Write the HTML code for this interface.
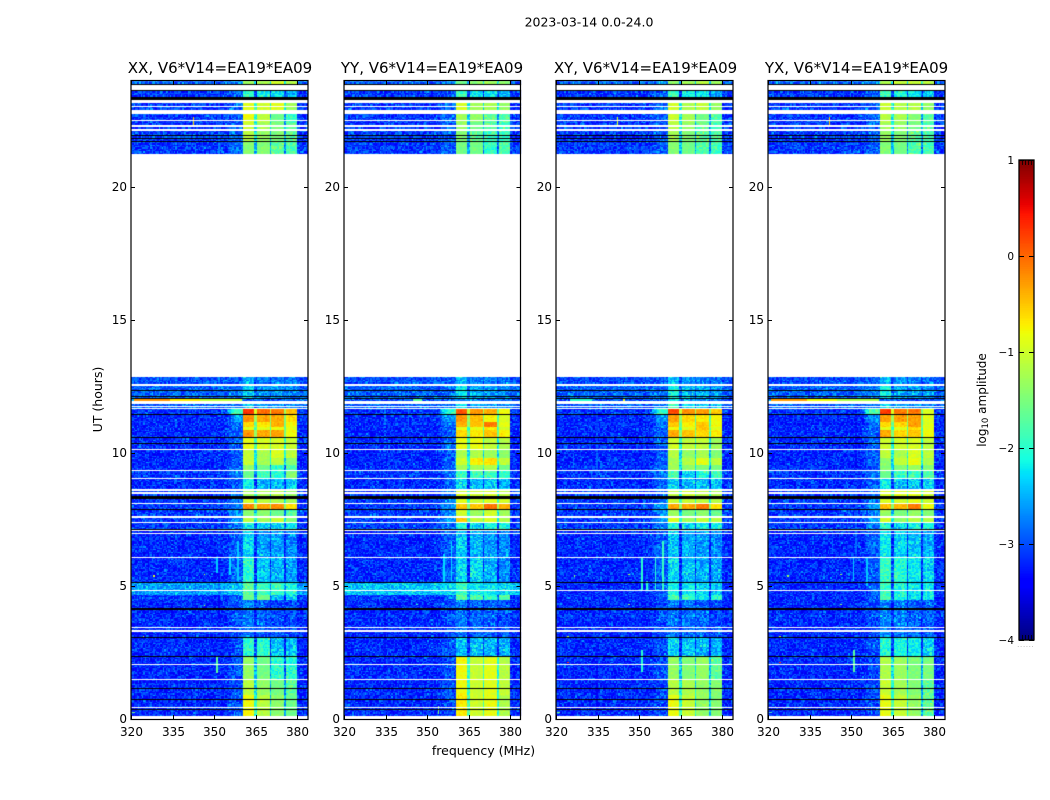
<!DOCTYPE html>
<html>
<head>
<meta charset="utf-8">
<title>2023-03-14 0.0-24.0</title>
<style>
html,body{margin:0;padding:0;background:#fff;width:1050px;height:800px;overflow:hidden}
#stage{position:relative;width:1050px;height:800px}
canvas,svg{position:absolute;left:0;top:0}
text{font-family:"DejaVu Sans","Liberation Sans",sans-serif;fill:#000}
</style>
</head>
<body>
<div id="stage">
<canvas id="heat" width="1050" height="800"></canvas>
<svg id="axes" width="1050" height="800" viewBox="0 0 1050 800">
  <text x="589" y="26.5" font-size="12.5" text-anchor="middle">2023-03-14 0.0-24.0</text>
  <text x="220" y="73" font-size="15" text-anchor="middle">XX, V6*V14=EA19*EA09</text>
  <text x="432" y="73" font-size="15" text-anchor="middle">YY, V6*V14=EA19*EA09</text>
  <text x="645.5" y="73" font-size="15" text-anchor="middle">XY, V6*V14=EA19*EA09</text>
  <text x="856.5" y="73" font-size="15" text-anchor="middle">YX, V6*V14=EA19*EA09</text>
  <text x="483.5" y="755" font-size="12.5" text-anchor="middle">frequency (MHz)</text>
  <text transform="translate(102,399.5) rotate(-90)" font-size="12.5" text-anchor="middle">UT (hours)</text>
  <text transform="translate(986,400) rotate(-90)" font-size="12" text-anchor="middle">log<tspan font-size="8.5" dy="2">10</tspan><tspan dy="-2"> amplitude</tspan></text>
  <text x="1026" y="647" font-size="6" style="fill:#888" text-anchor="middle" letter-spacing="1">......</text>
</svg>
</div>
<script>
// ---- Data ----
const panelNames = ['XX', 'YY', 'XY', 'YX'];
const freqTicks = [320, 335, 350, 365, 380];
const utTicks = [0, 5, 10, 15, 20];
const cbarTicks = [1, 0, -1, -2, -3, -4];

// Spectral windows (MHz)
const windowStartMHz = [360.6, 365.7, 370.7, 375.8];
const windowEndMHz = [364.7, 369.8, 374.9, 379.8];

// Time bands (UT hours)
const rowTopUT = [24.0,23.66,23.17,22.91,22.46,22.12,21.71,12.865,12.60,12.04,11.96,11.66,11.47,11.17,10.98,10.89,10.61,10.16,9.82,9.555,9.37,9.05,8.65,8.28,8.09,7.90,7.62,7.39,7.15,6.075,5.135,4.68,4.495,3.065,2.35,1.47,0.90];
const rowBottomUT = [23.66,23.17,22.91,22.46,22.12,21.71,21.27,12.60,12.04,11.96,11.66,11.47,11.17,10.98,10.89,10.61,10.16,9.82,9.555,9.37,9.05,8.65,8.28,8.09,7.90,7.62,7.39,7.15,6.075,5.135,4.68,4.495,3.065,2.35,1.47,0.90,0.113];

// log10 amplitude per band: [background, shoulder near 360 MHz, window 1, window 2, window 3, window 4]
const ampXX = [
[-2.9,-2.7,-1.3,-1.2,-0.95,-1.2],[-3.1,-2.9,-2.0,-2.1,-2.2,-2.5],[-3.1,-2.9,-0.9,-1.0,-0.9,-1.3],[-3.1,-2.9,-0.85,-1.1,-1.6,-1.9],
[-3.1,-2.9,-1.0,-1.25,-1.5,-1.7],[-3.1,-2.9,-1.15,-1.35,-1.5,-1.65],[-3.1,-2.9,-1.45,-1.45,-1.65,-1.75],[-3.0,-2.9,-2.5,-2.7,-2.8,-2.8],
[-2.9,-2.8,-2.3,-2.6,-2.6,-2.7],[-2.8,-2.7,-2.9,-3,-3,-3],[-2.9,-2.8,-2.3,-2.6,-2.6,-2.7],[-3.1,-1.8,0.3,-0.05,-0.1,-0.45],
[-3.2,-2.6,-0.2,-0.35,-0.35,-0.65],[-3.2,-2.8,-0.6,-0.7,-0.4,-0.8],[-3.2,-2.9,-0.9,-0.9,-0.8,-0.9],[-3.2,-2.9,-0.25,-0.35,-0.3,-0.8],
[-3.2,-2.9,-0.85,-0.95,-0.95,-1.05],[-3.2,-2.9,-1.05,-1.25,-0.95,-1.1],[-3.2,-2.9,-1.05,-1.25,-1.15,-1.45],[-3.2,-2.9,-1.4,-1.6,-2.0,-1.8],
[-3.1,-2.8,-1.6,-1.9,-2.0,-1.45],[-3.2,-2.9,-2.2,-2.5,-2.5,-2.3],[-3.1,-2.8,-1.25,-1.25,-1.15,-1.35],[-3.1,-2.8,-1.0,-1.1,-1.2,-1.3],
[-3.1,-2.7,-0.2,-0.3,-0.2,-0.65],[-3.1,-2.7,-1.4,-1.4,-1.6,-1.7],[-3.1,-2.7,-1.15,-1.25,-1.05,-1.45],[-3.1,-2.8,-2.2,-2.4,-2.3,-2.2],
[-3.2,-2.9,-2.3,-2.6,-2.6,-2.7],[-3.2,-2.9,-2.0,-2.4,-2.5,-2.6],[-2.6,-2.4,-1.7,-1.9,-1.9,-2.1],[-3.1,-2.9,-1.6,-1.6,-2.4,-2.3],
[-3.2,-3.0,-2.8,-2.9,-3.0,-3.0],[-3.2,-3.0,-2.0,-2.0,-2.4,-2.4],[-3.2,-3.0,-1.35,-1.55,-2.0,-2.0],[-3.2,-3.0,-1.15,-1.35,-1.55,-1.7],[-3.2,-3.0,-0.8,-1.15,-1.4,-1.6]
];
const ampYY = [
[-2.9,-2.7,-1.6,-1.4,-1.3,-1.4],[-3.1,-2.9,-1.9,-2.2,-2.2,-2.5],[-3.1,-2.9,-0.95,-1.25,-1.25,-1.35],[-3.1,-2.9,-1.25,-1.35,-1.65,-1.75],
[-3.1,-2.9,-1.35,-1.55,-1.75,-1.85],[-3.1,-2.9,-1.45,-1.65,-1.85,-1.85],[-3.1,-2.9,-1.55,-1.55,-1.95,-1.75],[-3.0,-2.9,-2.4,-2.7,-2.7,-2.8],
[-2.9,-2.8,-2.2,-2.5,-2.6,-2.7],[-3.0,-2.9,-2.6,-2.8,-2.8,-2.9],[-2.9,-2.8,-2.2,-2.5,-2.6,-2.7],[-3.1,-1.9,0.1,-0.25,-0.35,-0.8],
[-3.2,-2.6,-0.25,-0.45,-0.75,-0.95],[-3.2,-2.8,-0.4,-0.5,-0.1,-0.9],[-3.2,-2.9,-0.9,-0.9,-0.7,-1.0],[-3.2,-2.9,-0.6,-0.7,-0.5,-0.7],
[-3.2,-2.9,-0.85,-0.85,-1.1,-1.2],[-3.2,-2.9,-1.2,-1.2,-1.3,-1.4],[-3.2,-2.9,-1.0,-0.75,-0.65,-1.1],[-3.2,-2.9,-1.3,-1.3,-1.2,-1.6],
[-3.1,-2.8,-1.9,-1.9,-1.9,-1.9],[-3.2,-2.9,-2.3,-2.5,-2.4,-2.5],[-3.1,-2.8,-0.95,-1.0,-0.95,-1.1],[-3.1,-2.8,-0.9,-1.0,-0.9,-1.0],
[-3.1,-2.6,-0.5,-0.5,-0.05,-0.4],[-3.1,-2.7,-1.0,-1.3,-1.0,-1.3],[-3.1,-2.6,-0.5,-1.1,-0.95,-1.2],[-3.1,-2.8,-2.1,-2.3,-2.1,-2.1],
[-3.2,-2.9,-2.4,-2.5,-2.6,-2.7],[-3.2,-2.9,-2.3,-2.3,-2.5,-2.7],[-2.4,-2.3,-1.9,-2.2,-2.2,-2.3],[-3.1,-2.9,-1.7,-1.8,-2.0,-1.7],
[-3.2,-3.0,-2.8,-2.9,-2.9,-3.0],[-3.2,-3.0,-2.4,-2.4,-2.5,-2.5],[-3.2,-3.0,-0.8,-1.05,-0.9,-1.15],[-3.2,-3.0,-0.8,-1.0,-0.9,-1.1],[-3.2,-3.0,-0.7,-1.0,-0.85,-1.2]
];
const ampXY = [
[-2.9,-2.7,-1.4,-1.3,-1.15,-1.35],[-3.1,-2.9,-1.9,-2.2,-2.2,-2.5],[-3.1,-2.9,-1.0,-1.2,-1.1,-1.35],[-3.1,-2.9,-1.05,-1.25,-1.55,-1.75],
[-3.1,-2.9,-1.15,-1.35,-1.65,-1.75],[-3.1,-2.9,-1.25,-1.45,-1.65,-1.75],[-3.1,-2.9,-1.45,-1.55,-1.75,-1.85],[-3.0,-2.9,-2.4,-2.6,-2.7,-2.8],
[-2.9,-2.8,-2.1,-2.4,-2.5,-2.6],[-3.0,-2.9,-2.2,-2.6,-2.6,-2.8],[-2.9,-2.8,-1.9,-2.2,-2.3,-2.4],[-3.1,-1.9,0.15,-0.2,-0.3,-0.5],
[-3.2,-2.6,-0.3,-0.6,-0.7,-0.8],[-3.2,-2.8,-0.5,-0.7,-0.5,-0.8],[-3.2,-2.9,-0.8,-0.9,-0.5,-0.9],[-3.2,-2.9,-0.35,-0.5,-0.6,-0.7],
[-3.2,-2.9,-1.0,-1.1,-1.1,-1.3],[-3.2,-2.9,-1.15,-1.35,-1.25,-1.45],[-3.2,-2.9,-1.25,-1.15,-0.9,-1.15],[-3.2,-2.9,-1.3,-1.4,-1.5,-1.5],
[-3.1,-2.8,-1.8,-2.3,-2.0,-1.9],[-3.2,-2.9,-2.3,-2.5,-2.4,-2.4],[-3.1,-2.8,-1.1,-1.0,-1.1,-1.2],[-3.1,-2.8,-1.0,-1.1,-1.1,-1.2],
[-3.1,-2.6,-0.35,-0.35,-0.1,-0.65],[-3.1,-2.7,-1.3,-1.5,-1.4,-1.6],[-3.1,-2.6,-0.9,-1.3,-1.05,-1.15],[-3.1,-2.8,-2.1,-2.3,-2.2,-2.1],
[-3.2,-2.9,-2.4,-2.5,-2.6,-2.7],[-3.2,-2.9,-2.3,-2.4,-2.5,-2.6],[-3.2,-2.9,-2.1,-2.2,-2.3,-2.4],[-3.2,-2.9,-1.8,-1.9,-2.2,-2.0],
[-3.2,-3.0,-2.8,-2.8,-2.9,-3.0],[-3.2,-3.0,-2.3,-2.4,-2.5,-2.5],[-3.2,-3.0,-1.35,-1.45,-1.35,-1.65],[-3.2,-3.0,-1.15,-1.2,-1.35,-1.45],[-3.2,-3.0,-0.85,-1.05,-1.35,-1.45]
];
const ampYX = [
[-2.9,-2.7,-1.25,-1.05,-1.05,-1.15],[-3.1,-2.9,-1.9,-2.1,-2.2,-2.4],[-3.1,-2.9,-1.05,-1.15,-1.15,-1.35],[-3.1,-2.9,-1.15,-1.25,-1.45,-1.65],
[-3.1,-2.9,-1.25,-1.35,-1.55,-1.75],[-3.1,-2.9,-1.35,-1.45,-1.65,-1.75],[-3.1,-2.9,-1.45,-1.55,-1.75,-1.85],[-3.0,-2.9,-2.4,-2.6,-2.7,-2.8],
[-2.9,-2.8,-2.1,-2.5,-2.6,-2.6],[-2.8,-2.7,-2.9,-3,-3,-3],[-2.9,-2.8,-2.3,-2.5,-2.6,-2.7],[-3.1,-1.8,0.25,-0.1,-0.1,-0.9],
[-3.2,-2.6,-0.3,-0.3,-0.3,-0.9],[-3.2,-2.8,-0.6,-0.6,-0.3,-0.9],[-3.2,-2.9,-0.9,-0.9,-0.6,-0.9],[-3.2,-2.9,-0.35,-0.6,-0.5,-0.8],
[-3.2,-2.9,-1.0,-1.0,-0.95,-1.1],[-3.2,-2.9,-1.1,-1.2,-0.95,-1.1],[-3.2,-2.9,-1.4,-1.1,-0.85,-1.2],[-3.2,-2.9,-1.45,-1.45,-1.3,-1.45],
[-3.1,-2.8,-1.6,-1.9,-1.9,-1.7],[-3.2,-2.9,-2.2,-2.4,-2.4,-2.3],[-3.1,-2.8,-0.9,-0.9,-0.9,-1.0],[-3.1,-2.8,-0.9,-1.0,-0.9,-1.0],
[-3.1,-2.6,-0.45,-0.4,-0.1,-0.8],[-3.1,-2.7,-1.35,-1.5,-1.35,-1.45],[-3.1,-2.6,-0.95,-1.35,-1.15,-1.15],[-3.1,-2.8,-2.1,-2.3,-2.2,-2.1],
[-3.2,-2.9,-2.2,-2.3,-2.4,-2.5],[-3.2,-2.9,-1.9,-2.0,-2.2,-2.3],[-3.2,-2.9,-1.9,-2.1,-2.2,-2.2],[-3.2,-2.9,-1.8,-2.1,-2.3,-2.2],
[-3.2,-3.0,-2.7,-2.8,-2.9,-2.9],[-3.2,-3.0,-2.0,-2.1,-2.2,-2.3],[-3.2,-3.0,-1.2,-1.3,-1.5,-1.5],[-3.2,-3.0,-1.05,-1.25,-1.45,-1.65],[-3.2,-3.0,-0.85,-1.05,-1.35,-1.65]
];

// Scans with no data (rendered white) and zero-valued scans (rendered black): [UT high, UT low]
const emptyScansUT = [[23.857,23.674],[23.267,23.183],[23.06,23.02],[22.91,22.75],[22.53,22.50],[22.33,22.28],[22.18,22.12],[12.59,12.51],[11.955,11.90],[11.87,11.835],[11.775,11.75],[11.70,11.66],[10.157,10.12],[9.367,9.33],[9.066,9.017],[8.64,8.566],[8.53,8.475],[8.114,8.088],[7.636,7.573],[7.41,7.373],[7.12,7.083],[6.997,6.97],[6.094,6.064],[4.853,4.815],[3.45,3.423],[3.36,3.284],[2.069,2.039],[1.505,1.478],[0.451,0.414]];
const zeroScansUT = [[23.876,23.857],[23.674,23.643],[23.398,23.267],[21.958,21.931],[21.856,21.83],[21.743,21.715],[12.376,12.346],[12.162,12.14],[12.064,12.02],[11.473,11.443],[10.597,10.571],[10.383,10.352],[8.389,8.265],[7.9,7.881],[7.147,7.12],[5.154,5.116],[4.164,4.119],[3.085,3.047],[2.37,2.332],[1.166,1.14],[0.752,0.726],[0.376,0.35]];

// Interference features: [panel index, UT high, UT low, MHz low, MHz high, log10 amplitude]
const rfiFeatures = [
[0,12.02,11.98,321,334,-0.25],[0,12.02,11.98,334,345,-0.7],[0,12.02,11.98,345,360,-1.1],[0,2.35,1.74,350.8,351.4,-1.7],[0,4.3,4.26,346.2,346.8,-1.0],[0,5.47,5.43,346.2,346.8,-1.0],[0,5.4,5.36,328,328.5,-1.0],[0,3.14,3.1,324.2,324.8,-1.0],[0,0.27,0.22,320.5,321.5,-1.5],[0,6.1,5.5,350.8,351.3,-2.4],[0,6.1,5.4,355.5,356,-2.3],[0,6.7,5.2,358.3,358.8,-2.4],[0,22.66,22.3,342.2,342.7,-0.5],
[1,6.2,4.85,355.8,356.3,-2.3],[1,6.7,5.2,358.6,359.1,-2.3],[1,4.32,4.27,346,346.7,-1.9],[1,0.5,0.2,353.8,354.3,-1.5],[1,12.02,11.98,345,348,-1.7],
[2,6.1,4.85,350.7,351.2,-2.0],[2,5.2,4.85,352.5,353,-2.0],[2,6.1,4.85,355.6,356.1,-2.0],[2,6.7,4.85,358.4,358.9,-1.9],[2,2.6,1.75,350.8,351.3,-2.0],[2,4.32,4.27,346,346.7,-1.4],[2,5.47,5.43,346,346.6,-1.2],[2,5.4,5.36,326.5,327,-1.4],[2,3.14,3.1,324,324.6,-1.1],[2,2.14,2.1,324,324.6,0.2],[2,0.27,0.22,320.5,321.5,-1.5],[2,22.66,22.3,342,342.5,-0.9],[2,12.02,11.98,344,345,-0.9],[2,12.02,11.98,325,333,-2.0],
[3,12.02,11.98,321,334,-0.3],[3,12.02,11.98,334,345,-0.8],[3,12.02,11.98,345,360,-1.2],[3,6.1,5.2,350.5,351,-2.4],[3,6.1,5.0,355.5,356,-2.4],[3,2.6,1.75,350.8,351.3,-1.7],[3,4.32,4.27,346,346.7,-1.4],[3,5.47,5.43,346,346.6,-1.3],[3,5.4,5.36,327,327.5,-1.3],[3,3.14,3.1,324,324.6,-1.1],[3,2.14,2.1,324,324.6,0.2],[3,1.52,1.48,324,324.6,-1.1],[3,0.27,0.22,320.5,321.5,-1.8],[3,22.66,22.3,342,342.5,-0.5]
];

// Fixed small-scale grain (log10 offsets), repeated across cells
const grain = [-0.22,0.11,-0.05,0.27,-0.31,0.02,0.16,-0.18,0.34,-0.09,-0.26,0.07,0.21,-0.14,0.41,-0.28,0.04,-0.11,0.18,-0.35,0.09,0.29,-0.2,-0.03,0.13,-0.24,0.38,-0.07,-0.3,0.15,0.01,-0.17,0.24,-0.12,0.06,-0.33,0.31,-0.02,-0.21,0.19,0.52,-0.27,-0.08,0.12,-0.16,0.26,-0.34,0.03,0.22,-0.1,-0.25,0.17,0.36,-0.06,-0.29,0.08,-0.13,0.23,-0.19,0.44,-0.04,-0.32,0.14,0.28,-0.23,0.05,-0.15,0.33,-0.01,-0.36,0.2,0.1,-0.26,0.62,-0.11,-0.2,0.16,-0.07,0.25,-0.3,0.0,0.12,-0.17,0.39,-0.24,-0.05,0.18,-0.28,0.07,0.3,-0.14,-0.09,0.21,-0.33,0.11,0.47,-0.21];

// ---- Axis functions ----
const panelLeft = [131, 344, 556, 768];
const panelRight = [308, 520.5, 733, 945];
const PX_PER_MHZ = 2.773;
const PX_PER_HOUR = 26.583;
const PLOT_BOTTOM = 719;
const PLOT_TOP = 81;
const CBAR_LEFT = 1019, CBAR_RIGHT = 1034, CBAR_TOP = 160, CBAR_BOTTOM = 640;
function xScale(p, mhz) { return panelLeft[p] + (mhz - 320) * PX_PER_MHZ; }
function yScale(ut) { return PLOT_BOTTOM - ut * PX_PER_HOUR; }
function cbarY(v) { return CBAR_BOTTOM - (v + 4) / 5 * (CBAR_BOTTOM - CBAR_TOP); }

function piece(n, stops) {
  for (let i = 1; i < stops.length; i++) {
    if (n <= stops[i][0]) {
      const a = stops[i - 1], b = stops[i];
      return a[1] + (b[1] - a[1]) * (n - a[0]) / (b[0] - a[0]);
    }
  }
  return stops[stops.length - 1][1];
}
const jetR = [[0,0],[0.35,0],[0.66,1],[0.89,1],[1,0.5]];
const jetG = [[0,0],[0.125,0],[0.375,1],[0.64,1],[0.91,0],[1,0]];
const jetB = [[0,0.5],[0.11,1],[0.34,1],[0.65,0],[1,0]];
const lut = [];
for (let i = 0; i <= 255; i++) {
  const n = i / 255;
  lut.push('rgb(' + Math.round(piece(n, jetR) * 255) + ',' + Math.round(piece(n, jetG) * 255) + ',' + Math.round(piece(n, jetB) * 255) + ')');
}
function colorOf(v) {
  const n = Math.max(0, Math.min(1, (v + 4) / 5));
  return lut[Math.round(n * 255)];
}

// ---- Heatmap ----
const ctx = document.getElementById('heat').getContext('2d');
const panelAmps = [ampXX, ampYY, ampXY, ampYX];
const CH_MHZ = 0.5, DT_H = 0.05;

function baseAmp(row, f) {
  for (let w = 0; w < 4; w++) {
    if (f >= windowStartMHz[w] && f < windowEndMHz[w]) return row[2 + w];
  }
  if (f >= windowStartMHz[0] && f < windowEndMHz[3]) {
    for (let w = 0; w < 3; w++) {
      if (f >= windowEndMHz[w] && f < windowStartMHz[w + 1]) {
        return Math.max(row[0], (row[2 + w] + row[3 + w]) / 2 - 1.0);
      }
    }
  }
  if (f < windowStartMHz[0] && f >= 357) return row[1];
  if (f < 357 && f >= 354) return row[0] + (row[1] - row[0]) * (f - 354) / 3;
  return row[0];
}

for (let p = 0; p < 4; p++) {
  const amps = panelAmps[p];
  let r = 0;
  for (let b = 0; b < rowTopUT.length; b++) {
    const row = amps[b];
    for (let ut = rowTopUT[b]; ut > rowBottomUT[b] + 1e-6; ut -= DT_H, r++) {
      const lo = Math.max(ut - DT_H, rowBottomUT[b]);
      const y0 = Math.round(yScale(ut));
      const y1 = Math.round(yScale(lo));
      if (y1 <= y0) continue;
      for (let c = 0; c < 128; c++) {
        const f = 320 + c * CH_MHZ;
        const x0 = Math.round(xScale(p, f));
        const x1 = Math.min(Math.round(xScale(p, f + CH_MHZ)), Math.round(panelRight[p]));
        if (x1 <= x0) continue;
        const base = baseAmp(row, f + CH_MHZ / 2);
        const g = grain[(c * 13 + r * 29 + ((c * r) % 17) * 5 + p * 11) % grain.length];
        const v = base + g * (base < -2.2 ? 1 : (base < -1.6 ? 0.8 : 0.3));
        ctx.fillStyle = colorOf(v);
        ctx.fillRect(x0, y0, x1 - x0, y1 - y0);
      }
    }
  }
  for (const feat of rfiFeatures) {
    if (feat[0] !== p) continue;
    const x0 = Math.round(xScale(p, feat[3]));
    const w = Math.max(1, Math.round(xScale(p, feat[4])) - x0);
    const y0 = Math.round(yScale(feat[1]));
    const h = Math.max(1, Math.round(yScale(feat[2])) - y0);
    ctx.fillStyle = colorOf(feat[5]);
    ctx.fillRect(x0, y0, w, h);
  }
  const pw = Math.round(panelRight[p]) - panelLeft[p];
  ctx.fillStyle = '#fff';
  for (const s of emptyScansUT) {
    const y0 = Math.round(yScale(s[0]));
    ctx.fillRect(panelLeft[p], y0, pw, Math.max(1, Math.round(yScale(s[1])) - y0));
  }
  ctx.fillStyle = '#000';
  for (const s of zeroScansUT) {
    const y0 = Math.round(yScale(s[0]));
    ctx.fillRect(panelLeft[p], y0, pw, Math.max(1, Math.round(yScale(s[1])) - y0));
  }
}

// Colour bar
for (let i = 0; i < 256; i++) {
  const v0 = -4 + 5 * i / 256;
  const v1 = -4 + 5 * (i + 1) / 256;
  const yb = Math.round(cbarY(v0));
  const yt = Math.round(cbarY(v1));
  ctx.fillStyle = colorOf((v0 + v1) / 2);
  ctx.fillRect(CBAR_LEFT, yt, CBAR_RIGHT - CBAR_LEFT, Math.max(1, yb - yt));
}

// ---- Axes ----
const svg = document.getElementById('axes');
const NS = 'http://www.w3.org/2000/svg';
function addLine(x1, y1, x2, y2, w) {
  const l = document.createElementNS(NS, 'line');
  l.setAttribute('x1', x1);
  l.setAttribute('y1', y1);
  l.setAttribute('x2', x2);
  l.setAttribute('y2', y2);
  l.setAttribute('stroke', '#000');
  l.setAttribute('stroke-width', w || 1);
  svg.appendChild(l);
  return l;
}
function addLabel(x, y, str, anchor) {
  const t = document.createElementNS(NS, 'text');
  t.setAttribute('x', x);
  t.setAttribute('y', y);
  t.setAttribute('font-size', '12');
  t.setAttribute('text-anchor', anchor);
  t.textContent = str;
  svg.appendChild(t);
  return t;
}

for (let p = 0; p < 4; p++) {
  const frame = document.createElementNS(NS, 'rect');
  const L = panelLeft[p] + 0.0, R = panelRight[p];
  frame.setAttribute('x', L);
  frame.setAttribute('y', PLOT_TOP - 0.5);
  frame.setAttribute('width', R - L);
  frame.setAttribute('height', PLOT_BOTTOM - PLOT_TOP + 1);
  frame.setAttribute('fill', 'none');
  frame.setAttribute('stroke', '#000');
  frame.setAttribute('stroke-width', '1.2');
  
  
  svg.appendChild(frame);
  for (const f of freqTicks) {
    const x = Math.round(xScale(p, f)) + 0.5;
    const tb = addLine(x, PLOT_BOTTOM, x, PLOT_BOTTOM - 4);
    
    
    const tt = addLine(x, PLOT_TOP, x, PLOT_TOP + 4);
    
    
    const lb = addLabel(x, 736, String(f), 'middle');
    
    
  }
  for (const u of utTicks) {
    const y = Math.round(yScale(u)) + 0.5;
    const tl = addLine(L, y, L + 4, y);
    
    
    const tr = addLine(R - 4, y, R, y);
    
    
    const ly = addLabel(L - 4, y + 3.5, String(u), 'end');
    
    
  }
}

const cbFrame = document.createElementNS(NS, 'rect');
cbFrame.setAttribute('x', CBAR_LEFT);
cbFrame.setAttribute('y', CBAR_TOP);
cbFrame.setAttribute('width', CBAR_RIGHT - CBAR_LEFT);
cbFrame.setAttribute('height', CBAR_BOTTOM - CBAR_TOP);
cbFrame.setAttribute('fill', 'none');
cbFrame.setAttribute('stroke', '#000');
cbFrame.setAttribute('stroke-width', '1.3');


svg.appendChild(cbFrame);
for (const v of cbarTicks) {
  const y = Math.round(cbarY(v)) + 0.5;
  const a = addLine(CBAR_LEFT, y, CBAR_LEFT + 5, y);
  
  
  const b = addLine(CBAR_RIGHT - 5, y, CBAR_RIGHT, y);
  
  
  const t = addLabel(CBAR_LEFT - 5, y + 3.5, String(v).replace('-', '\u2212'), 'end');
  t.setAttribute('font-size', '10.5');
  
  
}
for (let i = 0; i < 4; i++) {
  const xm = CBAR_LEFT + 3.5 + i * 3;
  const m1 = addLine(xm, CBAR_TOP, xm, CBAR_TOP + 5, 0.8);
  
  
  const m2 = addLine(xm, CBAR_BOTTOM, xm, CBAR_BOTTOM - 5, 0.8);
  
  
}
</script>
</body>
</html>
